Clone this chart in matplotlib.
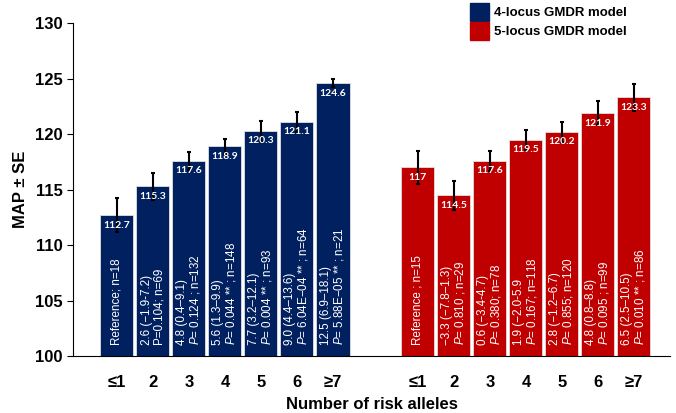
import matplotlib.pyplot as plt
import numpy as np
import matplotlib.patches as mpatches

plt.rcParams['font.family'] = ['Liberation Sans', 'DejaVu Sans']
plt.rcParams['mathtext.fontset'] = 'custom'
plt.rcParams['mathtext.it'] = 'Liberation Sans:italic'
plt.rcParams['mathtext.rm'] = 'Liberation Sans'

categories = ['≤1', '2', '3', '4', '5', '6', '≥7']

map4 = [112.7, 115.3, 117.6, 118.9, 120.3, 121.1, 124.6]
se4 = [1.5, 1.2, 0.8, 0.7, 0.9, 0.9, 0.4]
map5 = [117.0, 114.5, 117.6, 119.5, 120.2, 121.9, 123.3]
se5 = [1.5, 1.3, 0.9, 0.9, 0.9, 1.1, 1.2]
value_labels4 = ['112.7', '115.3', '117.6', '118.9', '120.3', '121.1', '124.6']
value_labels5 = ['117', '114.5', '117.6', '119.5', '120.2', '121.9', '123.3']

notes4 = ['Reference; n=18',
          '2.6 (\u22121.9-7.2)\nP=0.104; n=69',
          '4.8 (0.4\u20139.1)\n$\\it{P}$= 0.124 ; n=132',
          '5.6 (1.3\u20139.9)\n$\\it{P}$= 0.044 ** ; n=148',
          '7.7 (3.2\u201312.1)\n$\\it{P}$= 0.004 ** ; n=93',
          '9.0 (4.4\u201313.6)\n$\\it{P}$= 6.04E\u221204 ** ; n=64',
          '12.5 (6.9\u201318.1)\n$\\it{P}$= 5.88E\u221205 ** ; n=21']
notes5 = ['Reference ; n=15',
          '\u22123.3 (\u22127.8\u20131.3)\n$\\it{P}$= 0.810 ; n=29',
          '0.6 (\u22123.4-4.7)\n$\\it{P}$= 0.380; n=78',
          '1.9 (\u22122.0-5.9\n$\\it{P}$= 0.167; n=118',
          '2.8 (\u22121.2\u20136.7)\n$\\it{P}$= 0.855; n=120',
          '4.8 (0.8\u20138.8)\n$\\it{P}$= 0.095 ; n=99',
          '6.5 (2.5\u201310.5)\n$\\it{P}$= 0.010 ** ; n=86']

blue = '#002060'
red = '#C00000'

fig = plt.figure(figsize=(6.76, 4.13), dpi=100)
ax = fig.add_axes([0.108, 0.138, 0.883, 0.806])

x4 = np.arange(7)
x5 = np.arange(7) + 8.36
w = 0.92

ax.bar(x4, [v - 100 for v in map4], bottom=100, width=w, color=blue, edgecolor='#e0e0e0', linewidth=0.6, zorder=2)
ax.bar(x5, [v - 100 for v in map5], bottom=100, width=w, color=red, edgecolor='#e0e0e0', linewidth=0.6, zorder=2)
ax.errorbar(x4, map4, yerr=se4, fmt='none', ecolor='black', elinewidth=1.5, capsize=1.5, capthick=1.5, zorder=3)
ax.errorbar(x5, map5, yerr=se5, fmt='none', ecolor='black', elinewidth=1.5, capsize=1.5, capthick=1.5, zorder=3)

for xs, vals, labs, notes in [(x4, map4, value_labels4, notes4), (x5, map5, value_labels5, notes5)]:
    for xi, v, lab, note in zip(xs, vals, labs, notes):
        ax.annotate(lab, (xi, v), xytext=(0, -4), textcoords='offset points',
                    ha='center', va='top', color='white', fontsize=7.5,
                    fontweight='bold', family=['Lato', 'DejaVu Sans'], zorder=4)
        ax.text(xi, 101.0, note, rotation=90, ha='center', va='bottom',
                multialignment='left', color='white', fontsize=8.4,
                linespacing=1.05, zorder=4)

ax.set_ylim(100, 130)
ax.set_xlim(-1.22, 14.36 + 1.0)
ax.set_yticks(np.arange(100, 131, 5))
ax.set_xticks(list(x4) + list(x5))
ax.set_xticklabels(categories + categories)
ax.tick_params(axis='x', length=0, pad=14, labelsize=12)
ax.tick_params(axis='y', length=4, direction='out', labelsize=12)
for t in ax.get_xticklabels() + ax.get_yticklabels():
    t.set_fontweight('bold')
ax.spines['top'].set_visible(False)
ax.spines['right'].set_visible(False)

ax.set_ylabel('MAP \u00b1 SE', fontsize=12, fontweight='bold', labelpad=5)
ax.set_xlabel('Number of risk alleles', fontsize=12, fontweight='bold', labelpad=5)

handles = [mpatches.Patch(color=blue, label='4-locus GMDR model'),
           mpatches.Patch(color=red, label='5-locus GMDR model')]
leg = fig.legend(handles=handles, loc='upper left', bbox_to_anchor=(0.677, 1.022),
                 frameon=False, prop={'weight': 'bold', 'size': 9.5},
                 handlelength=1.5, handleheight=1.75, handletextpad=0.35, labelspacing=0.05)

fig.savefig('out.png', dpi=100)
